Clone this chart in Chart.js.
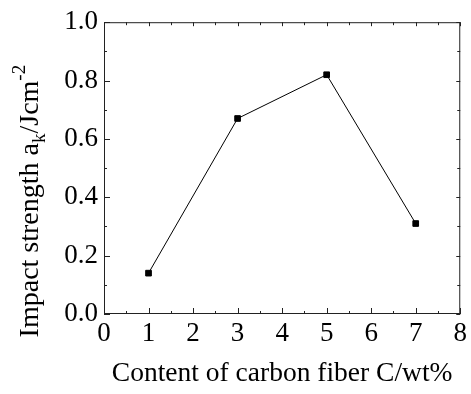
<!DOCTYPE html>
<html>
<head>
<meta charset="utf-8">
<script src="https://cdn.jsdelivr.net/npm/chart.js@4.4.1/dist/chart.umd.min.js"></script>
<style>
  html, body { margin: 0; padding: 0; background: #fff; }
  #wrap { width: 471px; height: 394px; position: relative; }
</style>
</head>
<body>
<div id="wrap"><canvas id="c" width="471" height="394"></canvas></div>
<script>
// ---- data ----
const carbonContent = [1, 3, 5, 7];            // C / wt%
const impactStrength = [0.14, 0.67, 0.82, 0.31]; // a_k / J cm^-2
const xTickValues = [0, 1, 2, 3, 4, 5, 6, 7, 8];
const xTickLabels = ['0', '1', '2', '3', '4', '5', '6', '7', '8'];
const yTickValues = [0, 0.2, 0.4, 0.6, 0.8, 1.0];
const yTickLabels = ['0.0', '0.2', '0.4', '0.6', '0.8', '1.0'];
const xTitle = 'Content of carbon fiber C/wt%';
const yTitleParts = [
  { text: 'Impact strength a', kind: 'normal' },
  { text: 'k', kind: 'sub' },
  { text: '/Jcm', kind: 'normal' },
  { text: '-2', kind: 'sup' }
];

const FONT = '"Liberation Serif", "Times New Roman", serif';
const FS = 27;
const TFS = 28;

const frameTicks = {
  id: 'frameTicks',
  afterDraw(chart) {
    const { ctx, chartArea: a } = chart;
    const xs = chart.scales.x, ys = chart.scales.y;
    ctx.save();
    ctx.strokeStyle = '#222';
    ctx.lineWidth = 1;
    ctx.strokeRect(a.left + 0.5, a.top + 0.5, a.right - a.left - 1, a.bottom - a.top - 1);
    ctx.beginPath();
    const xStep = xTickValues[1] - xTickValues[0];
    for (let i = 0; i < xTickValues.length; i++) {
      const v = xTickValues[i];
      const px = Math.round(xs.getPixelForValue(v)) + 0.5;
      ctx.moveTo(px, a.bottom); ctx.lineTo(px, a.bottom - 6);
      ctx.moveTo(px, a.top); ctx.lineTo(px, a.top + 4);
      if (i < xTickValues.length - 1) {
        const pm = Math.round(xs.getPixelForValue(v + xStep / 2)) + 0.5;
        ctx.moveTo(pm, a.bottom); ctx.lineTo(pm, a.bottom - 3);
        ctx.moveTo(pm, a.top); ctx.lineTo(pm, a.top + 3);
      }
    }
    const yStep = yTickValues[1] - yTickValues[0];
    for (let i = 0; i < yTickValues.length; i++) {
      const v = yTickValues[i];
      const py = Math.round(ys.getPixelForValue(v)) + 0.5;
      ctx.moveTo(a.left, py); ctx.lineTo(a.left + 6, py);
      ctx.moveTo(a.right, py); ctx.lineTo(a.right - 4, py);
      if (i < yTickValues.length - 1) {
        const pm = Math.round(ys.getPixelForValue(v + yStep / 2)) + 0.5;
        ctx.moveTo(a.left, pm); ctx.lineTo(a.left + 3, pm);
        ctx.moveTo(a.right, pm); ctx.lineTo(a.right - 3, pm);
      }
    }
    ctx.stroke();

    // y-axis title with subscript / superscript
    const big = TFS + 'px ' + FONT;
    const small = Math.round(TFS * 0.68) + 'px ' + FONT;
    let total = 0;
    for (const p of yTitleParts) {
      ctx.font = p.kind === 'normal' ? big : small;
      total += ctx.measureText(p.text).width;
    }
    const cy = (a.top + a.bottom) / 2 + 33;
    ctx.translate(38, cy + total / 2);
    ctx.rotate(-Math.PI / 2);
    ctx.fillStyle = '#000';
    ctx.textBaseline = 'alphabetic';
    ctx.textAlign = 'left';
    let x = 0;
    for (const p of yTitleParts) {
      ctx.font = p.kind === 'normal' ? big : small;
      const dy = p.kind === 'sub' ? 7 : (p.kind === 'sup' ? -13 : 0);
      ctx.fillText(p.text, x, dy);
      x += ctx.measureText(p.text).width;
    }
    ctx.restore();
  }
};

new Chart(document.getElementById('c'), {
  type: 'line',
  data: {
    datasets: [{
      data: carbonContent.map((c, i) => ({ x: c, y: impactStrength[i] })),
      borderColor: '#000',
      borderWidth: 1,
      backgroundColor: '#000',
      pointStyle: 'rect',
      pointRadius: 4,
      pointBorderWidth: 1,
      pointBorderColor: '#000',
      pointBackgroundColor: '#000',
      tension: 0,
      fill: false
    }]
  },
  options: {
    responsive: false,
    animation: false,
    devicePixelRatio: 1,
    layout: { padding: { top: 20, right: 7, left: 0, bottom: 0 } },
    plugins: { legend: { display: false }, tooltip: { enabled: false } },
    scales: {
      x: {
        type: 'linear',
        min: 0, max: 8,
        afterBuildTicks(s) { s.ticks = xTickValues.map(v => ({ value: v })); },
        afterFit(s) { s.height = 80; },
        grid: { display: true, drawOnChartArea: false, drawTicks: false },
        border: { display: false },
        ticks: {
          color: '#000',
          font: { family: FONT, size: FS },
          padding: 4,
          maxRotation: 0,
          autoSkip: false,
          callback: (v) => { const i = xTickValues.indexOf(v); return i >= 0 ? xTickLabels[i] : ''; }
        },
        title: {
          display: true,
          text: xTitle,
          color: '#000',
          font: { family: FONT, size: 27.5 },
          padding: { top: 0, bottom: 4 }
        }
      },
      y: {
        type: 'linear',
        min: 0, max: 1,
        afterBuildTicks(s) { s.ticks = yTickValues.map(v => ({ value: v })); },
        afterFit(s) { s.width = 104; },
        grid: { display: true, drawOnChartArea: false, drawTicks: false },
        border: { display: false },
        ticks: {
          color: '#000',
          font: { family: FONT, size: FS },
          padding: 6,
          autoSkip: false,
          callback: (v) => { const i = yTickValues.findIndex(t => Math.abs(t - v) < 1e-9); return i >= 0 ? yTickLabels[i] : ''; }
        }
      }
    }
  },
  plugins: [frameTicks]
});
</script>
</body>
</html>
